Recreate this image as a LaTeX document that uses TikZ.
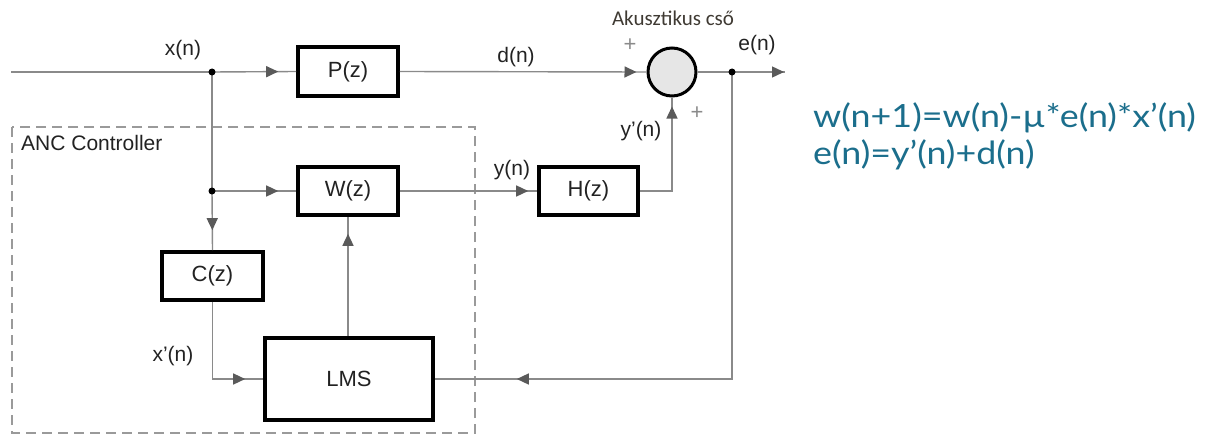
\documentclass[tikz,border=0pt]{standalone}
\usepackage{fontspec}
\setmainfont{Liberation Sans}
\newfontfamily\calibri{Carlito}
\newfontfamily\gill{Lato}
\usetikzlibrary{arrows.meta,decorations.markings}
\definecolor{wire}{HTML}{8A8A8A}
\definecolor{tipc}{HTML}{5A5A5A}
\definecolor{eqc}{HTML}{1B6E8C}
\definecolor{dashc}{HTML}{9A9A9A}
\definecolor{ttl}{HTML}{3F3A33}
\definecolor{sumfill}{HTML}{E6E6E6}
\definecolor{txt}{HTML}{222222}
\begin{document}
\begin{tikzpicture}[x=1pt,y=-1pt,
  wirel/.style={draw=wire,line width=1.4pt},
  blk/.style={draw=black,line width=3.6pt,fill=white,inner sep=0pt,text=txt,font=\fontsize{22}{26}\selectfont},
  lbl/.style={text=txt,inner sep=0pt,font=\fontsize{21}{25}\selectfont},
  plus/.style={text=wire,inner sep=0pt,font=\fontsize{22}{26}\selectfont},
  eqn/.style={anchor=west,text=eqc,inner sep=0pt,font=\gill\fontsize{32}{38}\selectfont},
  tipat/.style={postaction={decorate},decoration={markings,mark=at position #1 with {\arrow[tipc]{Triangle[length=12pt,width=11pt]}}}}]
\useasboundingbox (0,0) rectangle (1215,436);
% controller frame
\draw[dashc,line width=1.5pt,dash pattern=on 10pt off 6pt] (12,127) rectangle (475,433);
\node[lbl,anchor=west] (anc) at (21,143) {ANC Controller};
% blocks
\node[blk,minimum width=100pt,minimum height=49pt] (P) at (348,71.5) {P(z)};
\node[blk,minimum width=100pt,minimum height=48pt] (W) at (348,191) {W(z)};
\node[blk,minimum width=99pt,minimum height=48pt] (H) at (588.5,191) {H(z)};
\node[blk,minimum width=101pt,minimum height=48pt] (C) at (212.5,276) {C(z)};
\node[blk,minimum width=168pt,minimum height=82pt] (LMS) at (349,379) {LMS};
\node[circle,draw=black,line width=3pt,fill=sumfill,minimum size=48pt,inner sep=0pt] (sum) at (672,72) {};
% coordinates
\coordinate (in) at (11,72);
\coordinate (j1) at (212,72);
\coordinate (j2) at (212,191);
\coordinate (je) at (732,72);
\coordinate (out) at (785,72);
% wires
\draw[wirel] (in) -- (j1);
\draw[wirel,tipat=-18pt] (j1) -- (P.west);
\draw[wirel,tipat=-10pt] (P.east) -- (sum.west);
\draw[wirel] (sum.east) -- (je);
\draw[wirel,tipat=-1pt] (je) -- (out);
\draw[wirel] (j1) -- (j2);
\draw[wirel,tipat=-20pt] (j2) -- (C.north);
\draw[wirel,tipat=-18pt] (j2) -- (W.west);
\draw[wirel,tipat=-9pt] (W.east) -- (H.west);
\draw[wirel,tipat=-9pt] (H.east) -| (sum.south);
\draw[wirel,tipat=-18pt] (C.south) |- (LMS.west);
\draw[wirel,tipat=-17pt] (W.south |- LMS.north) -- (W.south);
\draw[wirel,tipat=-82pt] (je) |- (LMS.east);
% dots
\fill (j1) circle (3.5pt);
\fill (j2) circle (3.5pt);
\fill (je) circle (3.5pt);
% labels
\node[lbl] (lx) at (183,50) {x(n)};
\node[lbl] (ld) at (516,57) {d(n)};
\node[lbl] (le) at (757,45) {e(n)};
\node[lbl] (ly) at (512,170) {y(n)};
\node[lbl] (lyp) at (641,131) {y’(n)};
\node[lbl] (lxp) at (173,356) {x’(n)};
\node[plus] (p1) at (630,45) {+};
\node[plus] (p2) at (697,113) {+};
\node[text=ttl,inner sep=0pt,font=\calibri\fontsize{21}{24}\selectfont] (tube) at (673,18) {Akusztikus cső};
% equations
\node[eqn] (eq1) at (813,118) {\scalebox{1.12}[1]{w(n+1)=w(n)-µ*e(n)*x’(n)}};
\node[eqn] (eq2) at (813,155) {\scalebox{1.12}[1]{e(n)=y’(n)+d(n)}};
\end{tikzpicture}
\end{document}
